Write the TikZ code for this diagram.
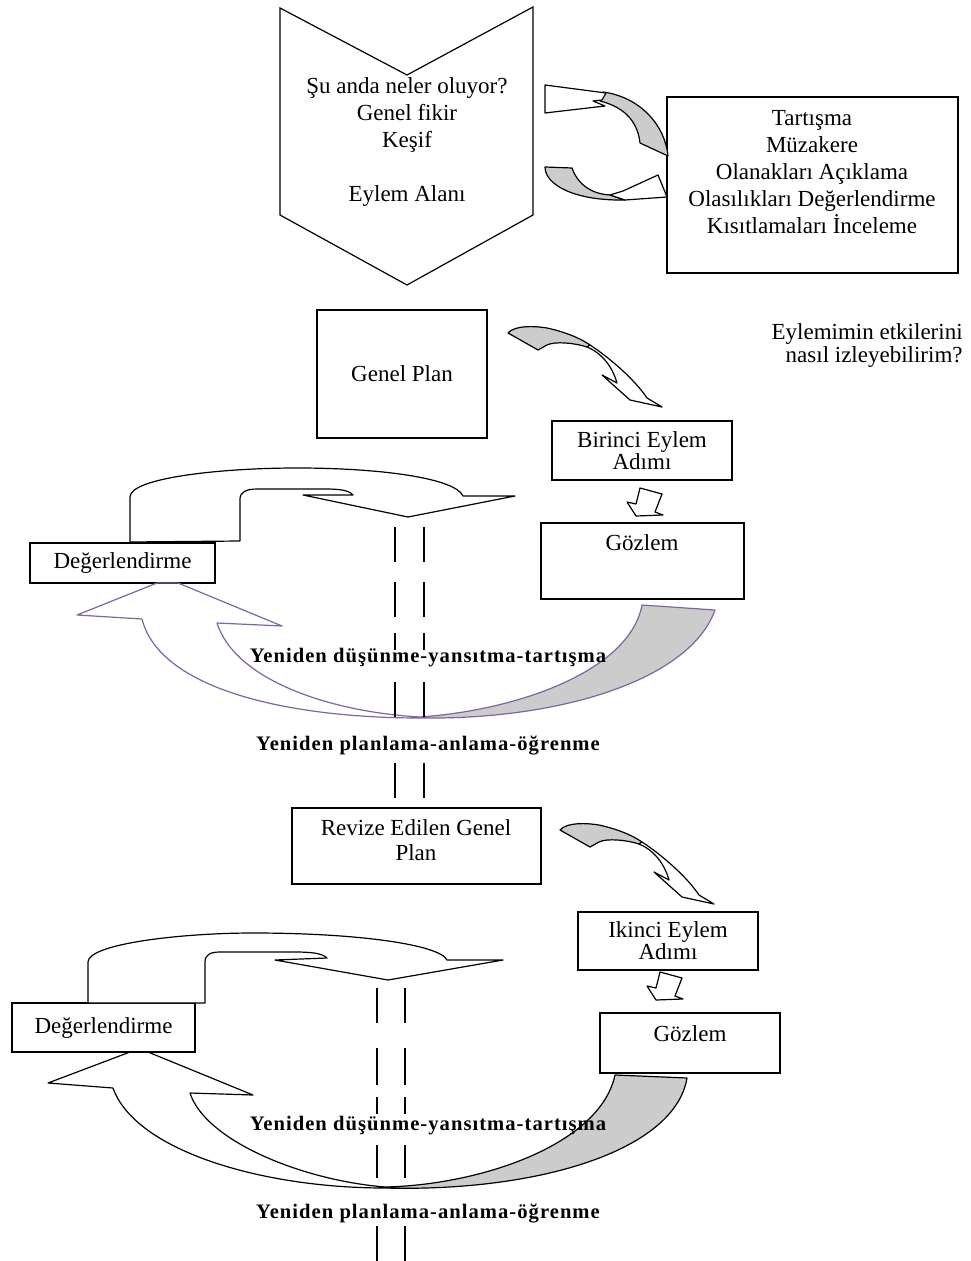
\documentclass[tikz,border=0pt]{standalone}
\usepackage{fontspec}
\setmainfont{Liberation Serif}
\newfontfamily\spacedbold[LetterSpace=5]{Liberation Serif}
\definecolor{undergray}{RGB}{204,204,204}
\definecolor{lilac}{RGB}{128,100,162}
\begin{document}
\begin{tikzpicture}[x=0.5pt,y=-0.5pt,
  box/.style={draw, line width=0.75pt, inner sep=0pt, align=center,
    font=\fontsize{11.5pt}{13.5pt}\selectfont},
  lbl/.style={inner sep=0pt, align=center, font=\fontsize{11.5pt}{13.5pt}\selectfont},
  boldlbl/.style={inner sep=0pt, font=\fontsize{10.3pt}{12pt}\spacedbold\bfseries},
  blockarrow/.style={draw, line width=0.6pt, fill=white, line join=round},
  underside/.style={draw, line width=0.6pt, fill=undergray, line join=round},
  guide/.style={draw, line width=0.75pt}
]
\fill[white] (0,0) rectangle (970,1261);
\useasboundingbox (0,0) rectangle (970,1261);

% ---------- action area chevron ----------
\draw[line width=0.6pt, line join=miter] (280,8) -- (407,75) -- (533,7) -- (533,215)
  -- (407,285) -- (280,215) -- cycle;
\node[lbl] (area) at (407,142)
  {Şu anda neler oluyor?\\Genel fikir\\Keşif\\\mbox{}\\Eylem Alanı};

% ---------- discussion box ----------
\node[box, minimum width=145.5pt, minimum height=88pt] (talk) at (812.5,185) {};
\node[lbl] (talktext) at (812,172)
  {Tartışma\\Müzakere\\Olanakları Açıklama\\Olasılıkları Değerlendirme\\Kısıtlamaları İnceleme};

% curved arrow back to the chevron
\draw[underside] (603,92) .. controls (640,97) and (665,125) .. (668,156)
  -- (640,143) .. controls (638,125) and (628,108) .. (600,101) -- cycle;
\draw[blockarrow] (545,85) -- (606,93) -- (602,100) -- (593,101) -- (605,106)
  -- (545,113) -- cycle;
% curved arrow towards the box
\draw[underside] (545,167) -- (572,168) .. controls (578,185) and (592,194) .. (610,195)
  -- (625,200) .. controls (575,201) and (545,185) .. (545,167) -- cycle;
\draw[blockarrow] (610,195) -- (623,191) -- (658,175) -- (667,197) -- (625,200) -- cycle;

% ---------- first cycle ----------
\node[box, minimum width=85pt, minimum height=64pt] (plan) at (402,374) {Genel Plan};
\node[lbl, align=right, anchor=east, font=\fontsize{11.5pt}{11.5pt}\selectfont] (ask)
  at (963,346) {Eylemimin etkilerini\\nasıl izleyebilirim?};
\node[box, minimum width=90pt, minimum height=29.5pt,
  font=\fontsize{11.5pt}{11pt}\selectfont] (step1) at (642,450.5) {Birinci Eylem\\Adımı};
\node[box, minimum width=101.5pt, minimum height=38pt] (obs1) at (642.5,561) {};
\node[lbl] (obs1text) at (642,543) {Gözlem};
\node[box, minimum width=92.5pt, minimum height=20pt] (eval1) at (122.5,563) {Değerlendirme};

% plan -> first step
\draw[underside] (508,333) .. controls (515,325) and (535,326) .. (547,328)
  .. controls (565,332) and (580,338) .. (590,345) -- (587,347)
  .. controls (575,343) and (555,341) .. (547,345) -- (538,350) -- cycle;
\draw[blockarrow] (590,345) .. controls (610,358) and (635,380) .. (647,398)
  -- (662,407) -- (630,400) -- (602,375) -- (617,383)
  .. controls (612,365) and (600,352) .. (587,347) -- cycle;
% first step -> observation
\draw[blockarrow] (640,488) -- (662,494) -- (655,512) -- (663,515) -- (636,516)
  -- (627,502) -- (636,504) -- cycle;

% evaluation loop over the top
\draw[blockarrow] (130,542) -- (130,497) .. controls (130,478) and (220,468) .. (297,468)
  .. controls (380,468) and (455,478) .. (463,496) -- (515,496) -- (408,517)
  -- (303,495) -- (353,495) .. controls (348,489) and (335,489) .. (320,489)
  -- (258,489) .. controls (246,489) and (240,492) .. (240,499) -- (240,541) -- cycle;

% reflection arc underneath
\fill[undergray] (420,718) .. controls (560,720) and (690,680) .. (715,610) -- (642,605)
  .. controls (630,670) and (520,710) .. (420,717) -- cycle;
\draw[lilac, line width=0.6pt, line join=round] (157,583) -- (77,615) -- (142,619)
  .. controls (160,690) and (290,718) .. (420,718)
  .. controls (560,720) and (690,680) .. (715,610) -- (642,605)
  .. controls (630,670) and (520,710) .. (420,717)
  .. controls (330,712) and (235,680) .. (217,623) -- (282,626) -- (178,583) -- cycle;

% double dashed guide line
\foreach \gx in {395,424} {
  \draw[guide] (\gx,527) -- (\gx,562) (\gx,582) -- (\gx,617) (\gx,633) -- (\gx,650)
    (\gx,682) -- (\gx,717) (\gx,763) -- (\gx,798);
}
\node[boldlbl] (rethink1) at (428,658) {Yeniden düşünme-yansıtma-tartışma};
\node[boldlbl] (replan1) at (428,746) {Yeniden planlama-anlama-öğrenme};

% ---------- second cycle ----------
\node[box, minimum width=124.5pt, minimum height=38pt] (revplan) at (416.5,846) {};
\node[lbl, font=\fontsize{11.5pt}{12.5pt}\selectfont] (revtext) at (416,840)
  {Revize Edilen Genel\\Plan};
\node[box, minimum width=90pt, minimum height=29pt,
  font=\fontsize{11.5pt}{11pt}\selectfont] (step2) at (668,941) {Ikinci Eylem\\Adımı};
\node[box, minimum width=90pt, minimum height=30pt] (obs2) at (690,1043) {};
\node[lbl] (obs2text) at (690,1034) {Gözlem};
\node[box, minimum width=91.5pt, minimum height=24.5pt] (eval2) at (103.5,1027.5) {Değerlendirme};

% revised plan -> second step
\begin{scope}[shift={(52,497)}]
\draw[underside] (508,333) .. controls (515,325) and (535,326) .. (547,328)
  .. controls (565,332) and (580,338) .. (590,345) -- (587,347)
  .. controls (575,343) and (555,341) .. (547,345) -- (538,350) -- cycle;
\draw[blockarrow] (590,345) .. controls (610,358) and (635,380) .. (647,398)
  -- (662,407) -- (630,400) -- (602,375) -- (617,383)
  .. controls (612,365) and (600,352) .. (587,347) -- cycle;
\end{scope}
% second step -> observation
\begin{scope}[shift={(20,484)}]
\draw[blockarrow] (640,488) -- (662,494) -- (655,512) -- (663,515) -- (636,516)
  -- (627,502) -- (636,504) -- cycle;
\end{scope}

% evaluation loop over the top
\draw[blockarrow] (88,1003) -- (88,962) .. controls (88,944) and (180,933) .. (253,933)
  .. controls (360,933) and (440,945) .. (447,960) -- (503,960) -- (388,980)
  -- (275,960) -- (327,958) .. controls (322,953) and (310,952) .. (295,952)
  -- (220,952) .. controls (210,952) and (205,955) .. (205,962) -- (205,1003) -- cycle;

% reflection arc underneath
\fill[undergray] (385,1188) .. controls (540,1192) and (675,1150) .. (687,1078) -- (615,1075)
  .. controls (600,1145) and (480,1185) .. (385,1187) -- cycle;
\draw[line width=0.6pt, line join=round] (130,1052) -- (48,1083) -- (113,1088)
  .. controls (135,1150) and (260,1188) .. (385,1188)
  .. controls (540,1192) and (675,1150) .. (687,1078) -- (615,1075)
  .. controls (600,1145) and (480,1185) .. (385,1187)
  .. controls (300,1180) and (205,1140) .. (190,1093) -- (253,1095) -- (148,1052) -- cycle;

\foreach \gx in {377,405} {
  \draw[guide] (\gx,988) -- (\gx,1023) (\gx,1048) -- (\gx,1085) (\gx,1097) -- (\gx,1114)
    (\gx,1145) -- (\gx,1178) (\gx,1226) -- (\gx,1261);
}
\node[boldlbl] (rethink2) at (428,1126) {Yeniden düşünme-yansıtma-tartışma};
\node[boldlbl] (replan2) at (428,1213) {Yeniden planlama-anlama-öğrenme};
\end{tikzpicture}
\end{document}
